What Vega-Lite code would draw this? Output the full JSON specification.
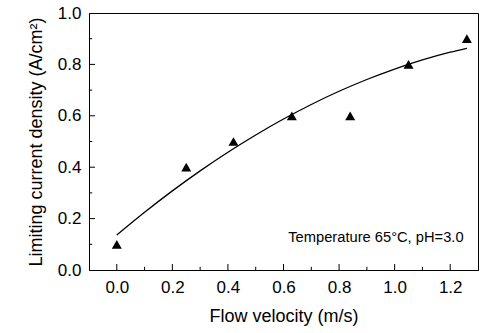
{
  "$schema": "https://vega.github.io/schema/vega-lite/v6.json",
  "width": 389,
  "height": 257,
  "autosize": {"type": "none"},
  "padding": {"left": 89, "top": 13, "right": 5, "bottom": 63},
  "background": "white",
  "config": {
    "view": {"stroke": "black", "strokeWidth": 1},
    "font": "Liberation Sans",
    "axis": {
      "domain": true,
      "domainColor": "black",
      "ticks": false,
      "labelColor": "black",
      "titleColor": "black",
      "labelFont": "Liberation Sans",
      "titleFont": "Liberation Sans",
      "labelFontSize": 17,
      "titleFontSize": 18,
      "titleFontWeight": "normal",
      "grid": false,
      "labelFlush": false
    }
  },
  "datasets": {
    "points": [
      {"v": 0.0, "j": 0.1},
      {"v": 0.25, "j": 0.4},
      {"v": 0.42, "j": 0.5},
      {"v": 0.63, "j": 0.6},
      {"v": 0.84, "j": 0.6},
      {"v": 1.05, "j": 0.8},
      {"v": 1.26, "j": 0.9}
    ],
    "fit": [
      {"v": 0.0, "j": 0.136},
      {"v": 0.1, "j": 0.2245},
      {"v": 0.2, "j": 0.3078},
      {"v": 0.3, "j": 0.3857},
      {"v": 0.4, "j": 0.4582},
      {"v": 0.5, "j": 0.5255},
      {"v": 0.6, "j": 0.5874},
      {"v": 0.7, "j": 0.6441},
      {"v": 0.8, "j": 0.6954},
      {"v": 0.9, "j": 0.7413},
      {"v": 1.0, "j": 0.782},
      {"v": 1.1, "j": 0.8173},
      {"v": 1.2, "j": 0.8474},
      {"v": 1.26, "j": 0.8628}
    ],
    "xMajor": [{"t": 0.0}, {"t": 0.2}, {"t": 0.4}, {"t": 0.6}, {"t": 0.8}, {"t": 1.0}, {"t": 1.2}],
    "xMinor": [{"t": 0.1}, {"t": 0.3}, {"t": 0.5}, {"t": 0.7}, {"t": 0.9}, {"t": 1.1}],
    "yMajor": [{"t": 0.2}, {"t": 0.4}, {"t": 0.6}, {"t": 0.8}],
    "yMinor": [{"t": 0.1}, {"t": 0.3}, {"t": 0.5}, {"t": 0.7}, {"t": 0.9}],
    "note": [
      {"v": 1.248, "j": 0.125, "label": "Temperature 65°C, pH=3.0"}
    ]
  },
  "layer": [
    {
      "data": {"name": "fit"},
      "mark": {"type": "line", "color": "black", "strokeWidth": 1.3, "interpolate": "monotone"},
      "encoding": {
        "x": {
          "field": "v", "type": "quantitative",
          "scale": {"domain": [-0.1, 1.3], "nice": false, "zero": false},
          "axis": {
            "title": "Flow velocity (m/s)",
            "values": [0, 0.2, 0.4, 0.6, 0.8, 1.0, 1.2],
            "format": ".1f",
            "labelPadding": 9,
            "titlePadding": 12
          }
        },
        "y": {
          "field": "j", "type": "quantitative",
          "scale": {"domain": [0, 1.0], "nice": false},
          "axis": {
            "title": "Limiting current density (A/cm²)",
            "values": [0, 0.2, 0.4, 0.6, 0.8, 1.0],
            "format": ".1f",
            "labelPadding": 8,
            "titlePadding": 12
          }
        }
      }
    },
    {
      "data": {"name": "xMajor"},
      "mark": {"type": "rule", "color": "black", "strokeWidth": 1},
      "encoding": {
        "x": {"field": "t", "type": "quantitative"},
        "y": {"datum": 0},
        "y2": {"datum": 0.0233}
      }
    },
    {
      "data": {"name": "xMinor"},
      "mark": {"type": "rule", "color": "black", "strokeWidth": 1},
      "encoding": {
        "x": {"field": "t", "type": "quantitative"},
        "y": {"datum": 0},
        "y2": {"datum": 0.0125}
      }
    },
    {
      "data": {"name": "yMajor"},
      "mark": {"type": "rule", "color": "black", "strokeWidth": 1},
      "encoding": {
        "y": {"field": "t", "type": "quantitative"},
        "x": {"datum": -0.1},
        "x2": {"datum": -0.0784}
      }
    },
    {
      "data": {"name": "yMinor"},
      "mark": {"type": "rule", "color": "black", "strokeWidth": 1},
      "encoding": {
        "y": {"field": "t", "type": "quantitative"},
        "x": {"datum": -0.1},
        "x2": {"datum": -0.0885}
      }
    },
    {
      "data": {"name": "points"},
      "mark": {"type": "point", "shape": "triangle-up", "filled": true, "color": "black", "opacity": 1, "size": 100},
      "encoding": {
        "x": {"field": "v", "type": "quantitative"},
        "y": {"field": "j", "type": "quantitative"}
      }
    },
    {
      "data": {"name": "note"},
      "mark": {"type": "text", "align": "right", "baseline": "middle", "fontSize": 14.7, "color": "black", "font": "Liberation Sans"},
      "encoding": {
        "x": {"field": "v", "type": "quantitative"},
        "y": {"field": "j", "type": "quantitative"},
        "text": {"field": "label"}
      }
    }
  ]
}
